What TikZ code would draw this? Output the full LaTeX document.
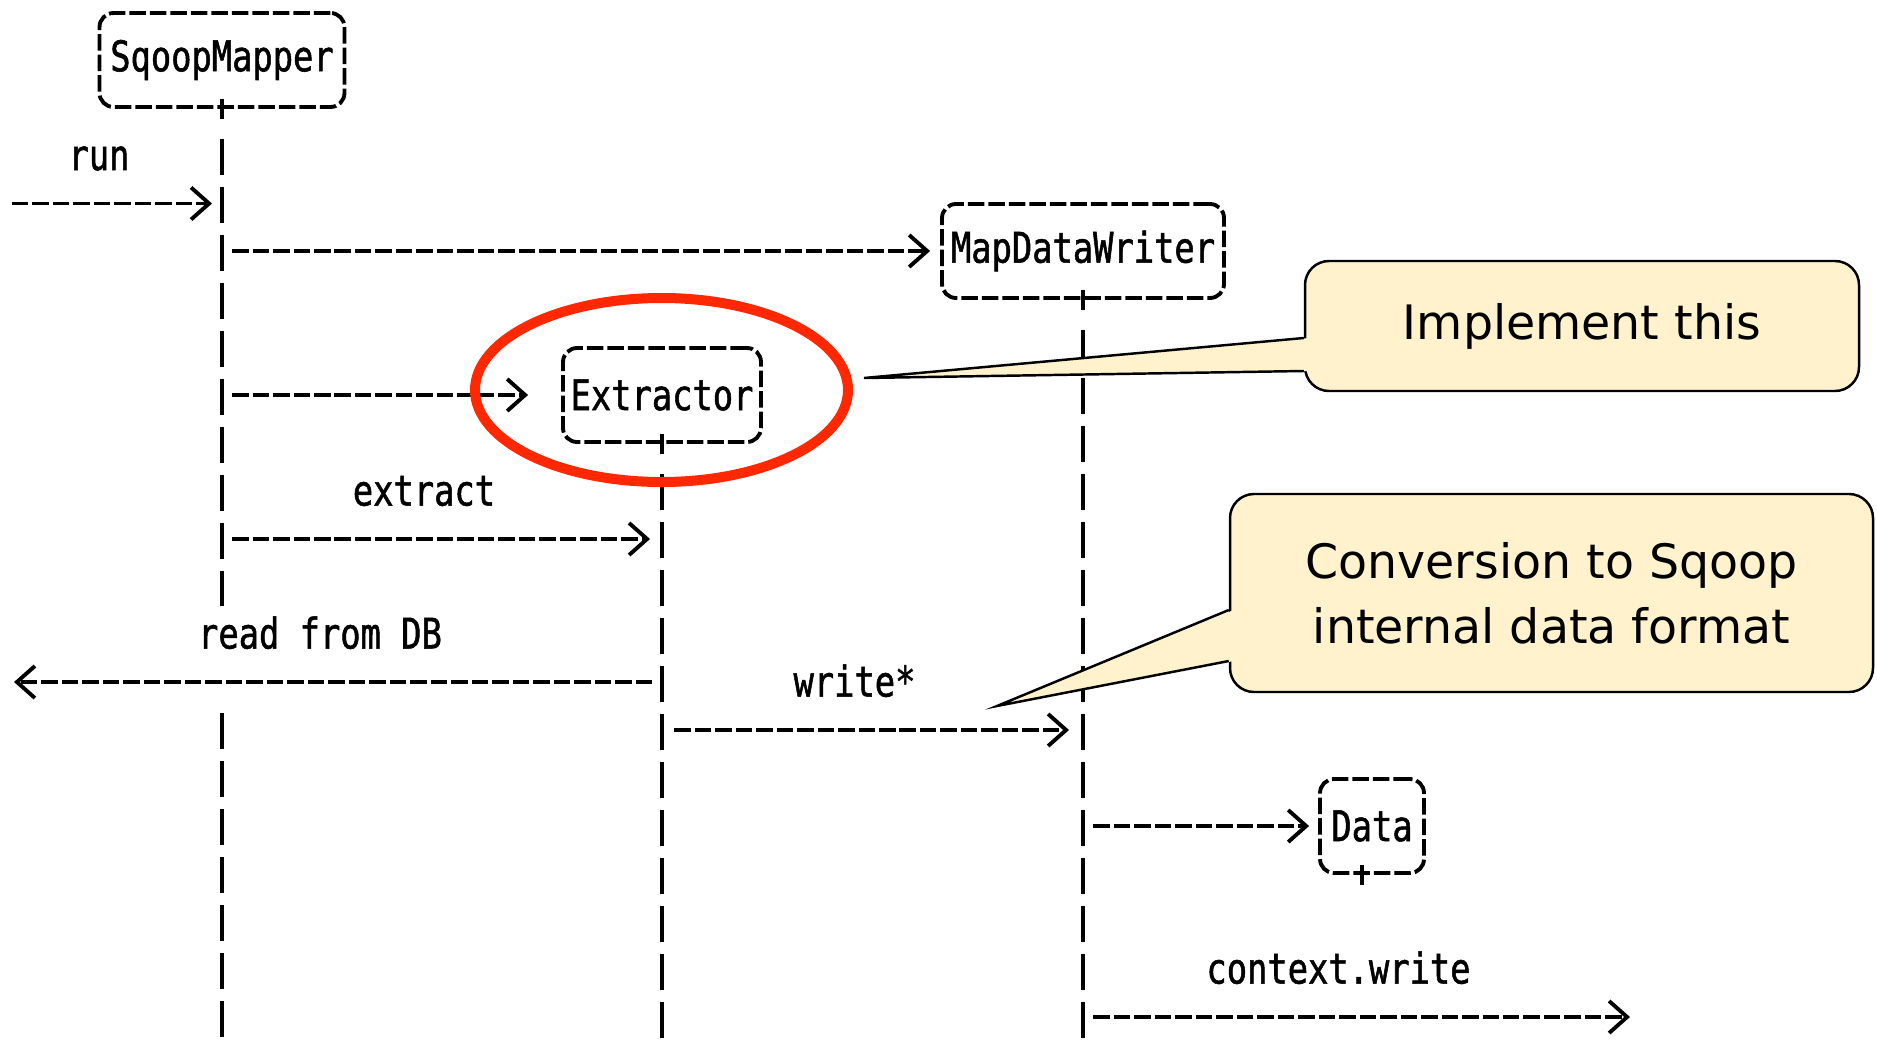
\documentclass[tikz,border=0pt]{standalone}
\usepackage{fontspec}
\usepackage{tikz}
\usetikzlibrary{arrows.meta,shapes.geometric,positioning,calc}
\newfontfamily\asciifont[FakeStretch=0.8,FakeBold=1.2]{DejaVu Sans Mono}
\newfontfamily\notefont{DejaVu Sans}
\definecolor{notefill}{RGB}{255,242,204}
\definecolor{markred}{RGB}{255,40,0}

\begin{document}
\begin{tikzpicture}[
    obj/.style={rectangle, rounded corners=4pt, draw, line width=1.1pt,
                dash pattern=on 0.165cm off 0.04cm, minimum height=0.94cm,
                inner sep=0pt, font=\asciifont\fontsize{12}{14}\selectfont},
    life/.style={line width=1.1pt, dash pattern=on 0.36cm off 0.12cm},
    msg/.style={-{Straight Barb[length=0.18cm,width=0.32cm]}, line width=1.1pt,
                dash pattern=on 0.165cm off 0.04cm},
    lbl/.style={font=\asciifont\fontsize{12}{14}\selectfont, anchor=base,
                yshift=0.335cm, xshift=-0.18cm, inner sep=1pt},
    note/.style={rectangle, rounded corners=0.24cm, draw, line width=0.7pt, fill=notefill,
                 align=center, font=\notefont\fontsize{13.5}{18.5}\selectfont}
]
\useasboundingbox (0,0) rectangle (18.77,-10.39);

% objects
\node[obj, minimum width=2.45cm] (mapper) at (2.22,-0.60) {SqoopMapper};
\node[obj, minimum width=2.82cm] (mdw) at (10.83,-2.51) {MapDataWriter};
\node[obj, minimum width=1.98cm] (extr) at (6.62,-3.95) {Extractor};
\node[obj, minimum width=1.04cm] (data) at (13.72,-8.26) {Data};

% rows
\coordinate (runFrom) at (0.12,-2.035);
\coordinate (rowExtract) at (0,-5.39);
\coordinate (dbOut) at (0.14,-6.82);
\coordinate (rowWrite) at (0,-7.30);
\coordinate (ctxOut) at (16.30,-10.17);
\coordinate (gapTop) at (0,-6.06);
\coordinate (gapBot) at (0,-7.13);
\coordinate (bottom) at (0,-10.39);

% lifelines
\draw[life] ([yshift=-0.3cm]mapper.south) -- (mapper |- gapTop);
\draw[life] (mapper |- gapBot) -- (mapper |- bottom);
\draw[life] ([yshift=-0.3cm]mdw.south) -- (mdw |- bottom);
\draw[life] ([yshift=-0.3cm]extr.south) -- (extr |- bottom);
\draw[line width=1.1pt] ([yshift=0.1cm]mapper.south) -- ([yshift=-0.1cm]mapper.south);
\draw[line width=1.1pt] ([yshift=0.1cm]mdw.south) -- ([yshift=-0.1cm]mdw.south);
\draw[line width=1.1pt] ([yshift=0.1cm]extr.south) -- ([yshift=-0.1cm]extr.south);
\draw[line width=1.1pt] ([shift={(-0.1,0.1)}]data.south) -- ([shift={(-0.1,-0.1)}]data.south);

% messages
\draw[msg, shorten >=0.1cm] (runFrom) -- node[lbl] {run} (runFrom -| mapper);
\draw[msg, shorten <=0.1cm, shorten >=0.1cm] (mapper |- mdw) -- (mdw.west);
\draw[msg, shorten <=0.1cm, shorten >=0.33cm] (mapper |- extr) -- (extr.west);
\draw[msg, shorten <=0.1cm, shorten >=0.12cm] (mapper |- rowExtract) -- node[lbl] {extract} (extr |- rowExtract);
\draw[msg, shorten <=0.1cm] (extr |- dbOut) -- node[lbl] {read from DB} (dbOut);
\draw[msg, shorten <=0.12cm, shorten >=0.14cm] (extr |- rowWrite) -- node[lbl] {write*} (mdw |- rowWrite);
\draw[msg, shorten <=0.1cm, shorten >=0.09cm] (mdw |- data) -- (data.west);
\draw[msg, shorten <=0.1cm] (mdw |- ctxOut) -- node[lbl] {context.write} (ctxOut);

% highlight
\node[ellipse, draw=markred, line width=0.1cm, minimum width=3.73cm, minimum height=1.84cm,
      inner sep=0pt] (mark) at (6.615,-3.90) {};

% notes
\node[note, minimum width=5.54cm, minimum height=1.30cm] (impl) at (15.82,-3.26) {Implement this};
\coordinate (implTip) at (8.64,-3.78);
\fill[notefill] ([shift={(0.05,-0.12)}]impl.west) -- (implTip) -- ([shift={(0.05,-0.45)}]impl.west) -- cycle;
\draw[line width=0.7pt] ([yshift=-0.12cm]impl.west) -- (implTip) -- ([yshift=-0.45cm]impl.west);

\node[note, minimum width=6.43cm, minimum height=1.98cm] (conv) at (15.515,-5.93) {Conversion to Sqoop\\internal data format};
\coordinate (convTip) at (9.97,-7.06);
\fill[notefill] ([shift={(0.05,-0.17)}]conv.west) -- (convTip) -- ([shift={(0.05,-0.68)}]conv.west) -- cycle;
\draw[line width=0.7pt] ([yshift=-0.17cm]conv.west) -- (convTip) -- ([yshift=-0.68cm]conv.west);
\end{tikzpicture}
\end{document}
